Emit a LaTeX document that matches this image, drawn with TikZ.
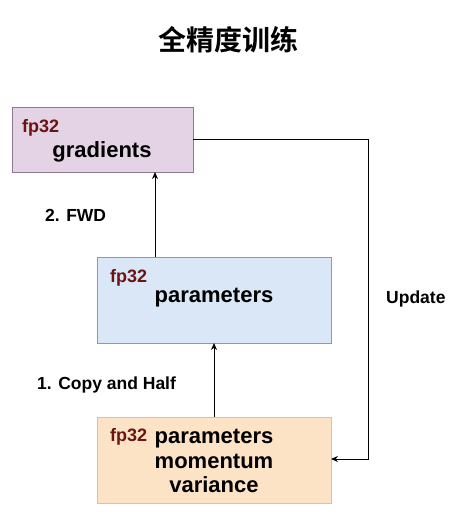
\documentclass[tikz,border=0pt]{standalone}
\usepackage{fontspec}
\setmainfont{Liberation Sans}
\newfontfamily\cjk{Noto Sans CJK SC}[BoldFont={* Bold}]
\usetikzlibrary{arrows.meta}
\definecolor{purplefill}{HTML}{E3D3E4}
\definecolor{purpledraw}{HTML}{8E7A90}
\definecolor{bluefill}{HTML}{DAE7F6}
\definecolor{bluedraw}{HTML}{8A9BB0}
\definecolor{orangefill}{HTML}{FCE3C6}
\definecolor{orangedraw}{HTML}{E3C28A}
\definecolor{fpred}{HTML}{6B1414}
\tikzset{
  box/.style={draw, line width=1pt},
  fptext/.style={anchor=west, inner sep=0pt, text=fpred, font=\bfseries\fontsize{18}{20}\selectfont},
  maintext/.style={inner sep=0pt, font=\bfseries\fontsize{22}{24}\selectfont},
  lbl/.style={anchor=west, inner sep=0pt, font=\bfseries\fontsize{17.5}{20}\selectfont},
  conn/.style={line width=0.9pt, -{Stealth[length=7pt,width=6pt]}}
}
\begin{document}
\begin{tikzpicture}[x=1pt,y=-1pt]
\useasboundingbox (0,0) rectangle (462,517);
\node[inner sep=0pt, font=\cjk\bfseries\fontsize{28}{30}\selectfont] (title) at (228,40) {全精度训练};
% boxes
\draw[box, fill=purplefill, draw=purpledraw] (12,107) rectangle (193,172);
\node[fptext] (g32) at (22,128) {fp32};
\node[maintext] (gtxt) at (102,152) {gradients};

\draw[box, fill=bluefill, draw=bluedraw] (97,257) rectangle (331,343);
\node[fptext] (p32) at (110,278) {fp32};
\node[maintext] (ptxt) at (214,298) {parameters};

\draw[box, fill=orangefill, draw=orangedraw] (97,417) rectangle (331,503);
\node[fptext] (o32) at (110,437) {fp32};
\node[maintext, align=center, font=\bfseries\fontsize{22}{24.5}\selectfont] (otxt) at (214,461) {parameters\\momentum\\variance};

% connectors
\coordinate (gb) at (155,172);
\coordinate (pt) at (155,257);
\coordinate (pb) at (214,343);
\coordinate (ot) at (214,417);
\coordinate (gr) at (193,139);
\coordinate (or) at (331,459);
\draw[conn] (pt) -- (gb);
\draw[conn] (ot) -- (pb);
\draw[conn] (gr) -- (368,139) -- (368,459) -- (or);

% labels
\node[lbl] (fwd) at (45,215) {2. FWD};
\node[lbl] (copy) at (37,385) {1. Copy and Half};
\node[lbl] (upd) at (386,299) {Update};
\end{tikzpicture}
\end{document}
